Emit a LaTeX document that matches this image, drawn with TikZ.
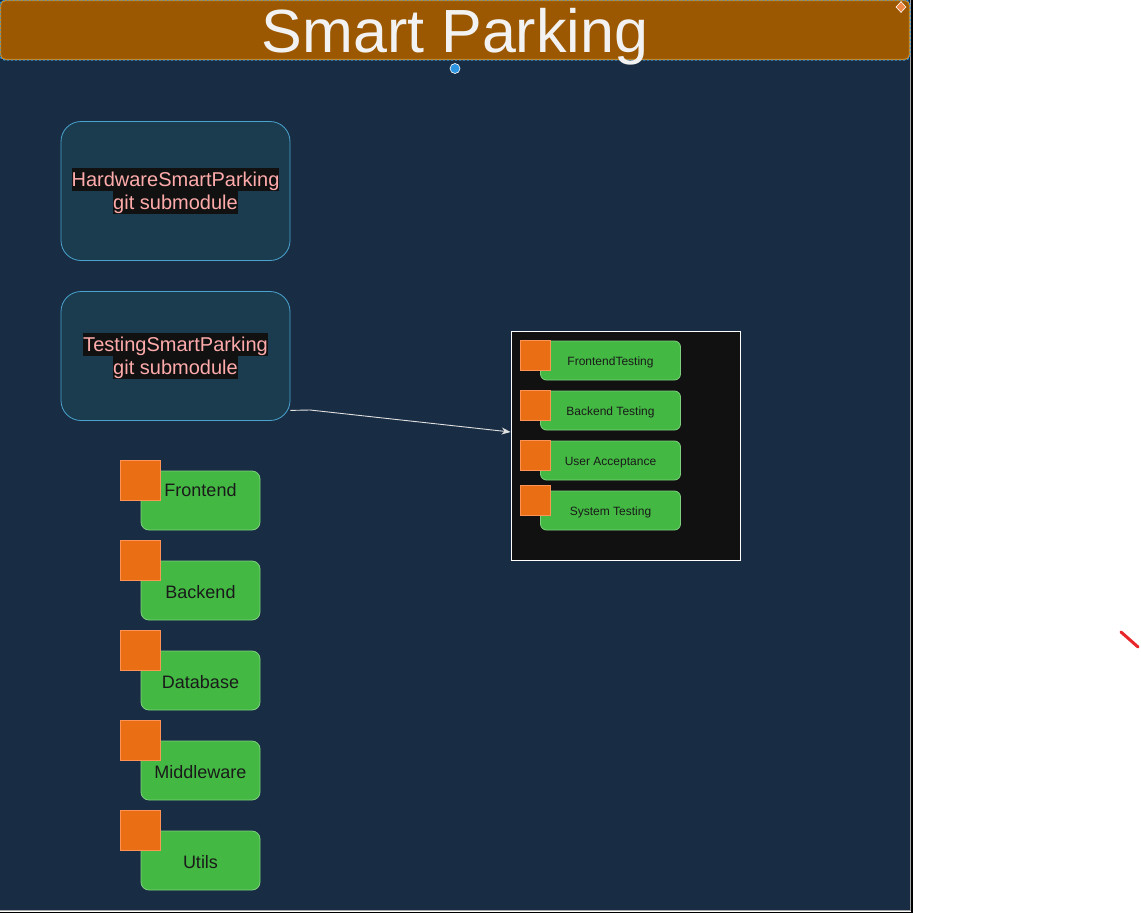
\documentclass[tikz,border=0pt]{standalone}
\usepackage{fontspec}
\setmainfont{Liberation Sans}
\usetikzlibrary{arrows.meta,shapes.geometric}
\definecolor{navy}{HTML}{182D44}
\definecolor{titlefill}{HTML}{9C5800}
\definecolor{titleline}{HTML}{D08A20}
\definecolor{selblue}{HTML}{2E95E0}
\definecolor{subfill}{HTML}{1A3C4E}
\definecolor{subline}{HTML}{4AA3CF}
\definecolor{pinktext}{HTML}{FFABAB}
\definecolor{hlbg}{HTML}{111111}
\definecolor{greenfill}{HTML}{43B943}
\definecolor{greenline}{HTML}{7ED07E}
\definecolor{orangefill}{HTML}{E96E14}
\definecolor{orangeline}{HTML}{FF9355}
\definecolor{darktext}{HTML}{1A1A1A}
\definecolor{diamondfill}{HTML}{F08A4B}
\definecolor{redmark}{HTML}{E8262A}
\newcommand{\hlline}[1]{{\setlength{\fboxsep}{0pt}\colorbox{hlbg}{\rule{0pt}{18.1pt}\rule[-4.3pt]{0pt}{4.3pt}#1}}}
\begin{document}
\begin{tikzpicture}[x=1pt,y=-1pt,
  subbox/.style={draw=subline, fill=subfill, rounded corners=20pt, line width=0.8pt,
    minimum width=229pt, minimum height=#1, inner sep=0pt, align=center,
    text=pinktext, font=\fontsize{20}{22.4}\selectfont},
  biggreen/.style={draw=greenline, fill=greenfill, rounded corners=8pt, line width=0.8pt,
    minimum width=119pt, minimum height=59pt, inner sep=0pt, text=darktext,
    font=\fontsize{18}{21}\selectfont, text height=15pt, text depth=0pt},
  bigsq/.style={draw=orangeline, fill=orangefill, line width=0.8pt,
    minimum width=40pt, minimum height=40pt, inner sep=0pt},
  smallgreen/.style={draw=greenline, fill=greenfill, rounded corners=6pt, line width=0.8pt,
    minimum width=140pt, minimum height=39pt, inner sep=0pt, text=darktext,
    font=\fontsize{12}{14}\selectfont, text height=10pt, text depth=0pt},
  smallsq/.style={draw=orangeline, fill=orangefill, line width=0.8pt,
    minimum width=30pt, minimum height=30pt, inner sep=0pt},
  arr/.style={draw=white!88!black, line width=0.9pt, -{Stealth[length=9pt,width=7pt]}}
]
\useasboundingbox (0,0) rectangle (1141,913);
\fill[white] (0,0) rectangle (1141,913);
% main canvas
\fill[navy] (0,0) rectangle (910,910);
\draw[black, line width=2pt] (911.5,0) -- (911.5,912.5) -- (0,912.5);
\draw[gray!70, line width=1pt] (910,0) -- (910,910) -- (0,910);
% title bar
\node[draw=titleline, fill=titlefill, rounded corners=5pt, line width=1.2pt,
  minimum width=909pt, minimum height=59pt, inner sep=0pt] (title) at (455,30) {};
\draw[selblue, dash pattern=on 2pt off 2pt, line width=1.2pt, rounded corners=5pt]
  (title.north west) rectangle (title.south east);
\node[text=white!95!black, font=\fontsize{61}{70}\selectfont, inner sep=0pt, anchor=base]
  (titletext) at (455,52) {Smart Parking};
\node[circle, fill=selblue, draw=white, line width=0.6pt, minimum size=10pt, inner sep=0pt]
  (handle) at (455,68.5) {};
\node[diamond, fill=diamondfill, draw=white, line width=0.6pt, minimum width=10pt,
  minimum height=11pt, inner sep=0pt] (rot) at (901,7) {};
% submodule boxes
\node[subbox=139pt] (hw) at (175.5,191) {\hlline{HardwareSmartParking}\\[-0.2pt]\hlline{git submodule}};
\node[subbox=129pt] (test) at (175.5,356) {\hlline{TestingSmartParking}\\[-0.2pt]\hlline{git submodule}};
% testing container
\node[draw=white, fill=hlbg, line width=0.8pt, minimum width=229pt, minimum height=229pt,
  inner sep=0pt] (cont) at (625.5,445.5) {};
\coordinate (bend) at (310,410);
\draw[arr] ([yshift=10.5pt]test.south east) -- (bend) -- ([yshift=13.5pt]cont.west);
% testing items
\node[smallgreen] (ft) at (610.5,360.5) {FrontendTesting};
\node[smallsq] (ftq) at (535,355.5) {};
\node[smallgreen] (bt) at (610.5,410.5) {Backend Testing};
\node[smallsq] (btq) at (535,405.5) {};
\node[smallgreen] (ua) at (610.5,460.5) {User Acceptance};
\node[smallsq] (uaq) at (535,455.5) {};
\node[smallgreen] (st) at (610.5,510.5) {System Testing};
\node[smallsq] (stq) at (535,500.5) {};
% module items
\node[biggreen, text height=13pt, text depth=22pt] (fe) at (200.5,500.5) {Frontend};
\node[bigsq] (feq) at (140.5,480.5) {};
\node[biggreen] (be) at (200.5,590.5) {Backend};
\node[bigsq] (beq) at (140.5,560.5) {};
\node[biggreen] (db) at (200.5,680.5) {Database};
\node[bigsq] (dbq) at (140.5,650.5) {};
\node[biggreen] (mw) at (200.5,770.5) {Middleware};
\node[bigsq] (mwq) at (140.5,740.5) {};
\node[biggreen] (ut) at (200.5,860.5) {Utils};
\node[bigsq] (utq) at (140.5,830.5) {};
% stray red mark
\draw[redmark, line width=3pt, line cap=round] (1121,632) -- (1138,647);
\end{tikzpicture}
\end{document}
